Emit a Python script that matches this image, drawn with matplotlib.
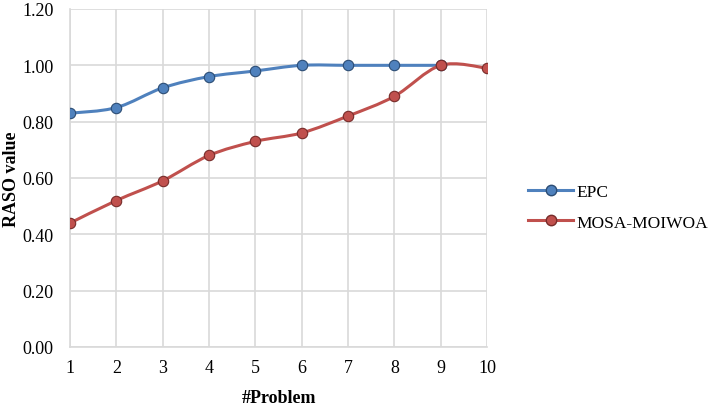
import numpy as np
import matplotlib.pyplot as plt
from matplotlib.path import Path
from matplotlib.patches import PathPatch
from matplotlib.lines import Line2D

plt.rcParams['font.family'] = ['Liberation Serif', 'DejaVu Serif']

problems = [1, 2, 3, 4, 5, 6, 7, 8, 9, 10]
epc = [0.83, 0.85, 0.92, 0.96, 0.98, 1.00, 1.00, 1.00, 1.00]
mosa = [0.44, 0.52, 0.59, 0.68, 0.73, 0.76, 0.82, 0.89, 1.00, 0.99]
yticks = [0.0, 0.2, 0.4, 0.6, 0.8, 1.0, 1.2]

blue = '#4F81BD'
red = '#C0504D'


def smooth_path(x, y, t=1/6):
    # cubic bezier segments like excel's smoothed line
    x = np.asarray(x, float)
    y = np.asarray(y, float)
    n = len(x)
    verts = [(x[0], y[0])]
    codes = [Path.MOVETO]
    for i in range(n - 1):
        p0 = np.array([x[max(i - 1, 0)], y[max(i - 1, 0)]])
        p1 = np.array([x[i], y[i]])
        p2 = np.array([x[i + 1], y[i + 1]])
        p3 = np.array([x[min(i + 2, n - 1)], y[min(i + 2, n - 1)]])
        c1 = p1 + (p2 - p0) * t
        c2 = p2 - (p3 - p1) * t
        verts += [tuple(c1), tuple(c2), tuple(p2)]
        codes += [Path.CURVE4] * 3
    return Path(verts, codes)


fig = plt.figure(figsize=(7.09, 4.06), dpi=100)
ax = fig.add_axes([70/709, 1 - 348/406, (487 - 70)/709, (348 - 10)/406])

for xs, ys, c, dark in [(problems[:len(epc)], epc, blue, '#2C4D75'),
                        (problems, mosa, red, '#772C2A')]:
    ax.add_patch(PathPatch(smooth_path(xs, ys), fill=False, edgecolor=c,
                           lw=2.2, zorder=3))
    ax.plot(xs, ys, ls='none', marker='o', ms=7.5, mfc=c, mec=dark,
            mew=0.8, zorder=4)

ax.set_xlim(1, 10)
ax.set_ylim(0, 1.2)
ax.set_xticks(problems)
ax.set_yticks(yticks)
ax.set_yticklabels(['%.2f' % v for v in yticks])
ax.grid(True, color='#D9D9D9', lw=1.2)
ax.set_axisbelow(True)
for s in ['top', 'right']:
    ax.spines[s].set_visible(False)
for s in ['left', 'bottom']:
    ax.spines[s].set_color('#D9D9D9')
    ax.spines[s].set_linewidth(1.2)
ax.tick_params(axis='y', length=0, labelsize=13, pad=12)
ax.tick_params(axis='x', length=0, labelsize=13, pad=9)
ax.set_xlabel('#Problem', fontsize=13, fontweight='bold', labelpad=9)
ax.set_ylabel('RASO value', fontsize=13, fontweight='bold', va='center')
ax.yaxis.set_label_coords(-0.14, 0.5)

handles = [Line2D([], [], color=blue, lw=2.2, marker='o', ms=7.5, mfc=blue, mec='#2C4D75'),
           Line2D([], [], color=red, lw=2.2, marker='o', ms=7.5, mfc=red, mec='#772C2A')]
fig.legend(handles, ['EPC', 'MOSA-MOIWOA'], loc='center left',
           bbox_to_anchor=(528/709, 1 - 208/406), frameon=False,
           fontsize=12.5, handlelength=2.6, labelspacing=0.85, handletextpad=0.2,
           borderpad=0, borderaxespad=0)

fig.savefig('out.png', dpi=100)
